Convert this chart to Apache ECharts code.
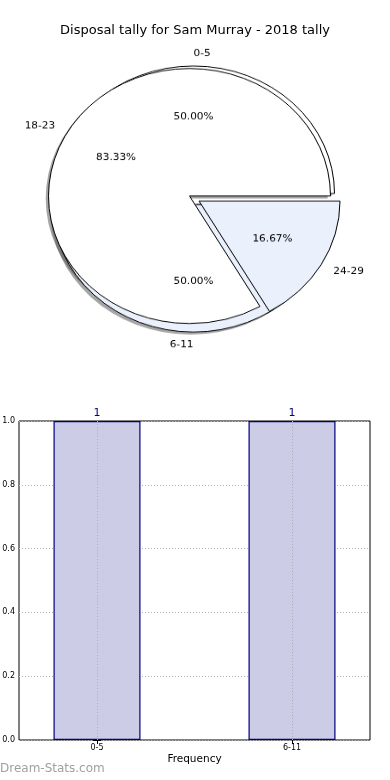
<!DOCTYPE html>
<html><head><meta charset="utf-8">
<script src="https://cdn.jsdelivr.net/npm/echarts@6/dist/echarts.min.js"></script>
<style>
html,body{margin:0;padding:0;background:#fff;}
#wrap{position:relative;width:390px;height:780px;overflow:hidden;}
#main{position:absolute;left:0;top:0;width:390px;height:780px;}
#pie{position:absolute;left:0;top:0;width:390px;height:420px;transform:scaleY(0.9043);transform-origin:0 0;}
</style></head><body>
<div id="wrap"><div id="main"></div><div id="pie"></div></div>
<script>
// ---- data ----
const chartTitle = 'Disposal tally for Sam Murray - 2018 tally';
const pieNamesA = ['0-5', '6-11'];
const pieValuesA = [1, 1];
const pieColorsA = ['#ffffff', '#eaf0fc'];
const pieExplodeA = [true, true];
const pieNamesB = ['18-23', '24-29'];
const pieValuesB = [5, 1];
const pieColorsB = ['#ffffff', '#eaf0fc'];
const pieExplodeB = [false, true];
const barCategories = ['0-5', '6-11'];
const barValues = [1, 1];
const xAxisName = 'Frequency';
const watermark = 'Dream-Stats.com';

// ---- pie (elliptical via vertical CSS scale) ----
const SY = 0.9043, R = 141;
const FONT = 'DejaVu Sans';
const SHX = -2.8, SHY = 2.82;

function pieBase(center, offset, radius) {
  return {
    type: 'pie', center: center, radius: radius, startAngle: 0, clockwise: false,
    selectedMode: 'multiple', selectedOffset: offset, avoidLabelOverlap: false,
    silent: true, animation: false, emphasis: {disabled: true},
    labelLine: {show: false, length: R * 0.1, length2: 0}
  };
}
function shadowPie(names, values, explode, center, offset) {
  const s = pieBase([center[0] + SHX, center[1] + SHY], offset, R);
  s.itemStyle = {color: 'rgba(77,77,77,0.5)', borderWidth: 0};
  s.select = {itemStyle: {color: 'rgba(77,77,77,0.5)', borderWidth: 0}};
  s.label = {show: false};
  s.data = names.map((n, i) => ({name: n, value: values[i], selected: explode[i]}));
  return s;
}
function mainPie(names, values, colors, explode, center, offset) {
  const s = pieBase(center, offset, R);
  s.itemStyle = {borderColor: '#000', borderWidth: 1};
  s.select = {itemStyle: {borderColor: '#000', borderWidth: 1}};
  s.label = {show: true, position: 'outside', formatter: '{b}', fontFamily: FONT, fontSize: 10.5, color: '#000', distanceToLabelLine: 0};
  s.data = names.map((n, i) => ({name: n, value: values[i], selected: explode[i], itemStyle: {color: colors[i]}, select: {itemStyle: {color: colors[i]}}}));
  return s;
}
function pctPie(names, values, explode, center, offset) {
  const sum = values.reduce((a, b) => a + b, 0);
  const s = pieBase(center, offset, [R * 0.4, R * 0.76]);
  s.itemStyle = {color: 'rgba(0,0,0,0)', borderWidth: 0};
  s.select = {itemStyle: {color: 'rgba(0,0,0,0)', borderWidth: 0}};
  s.label = {show: true, position: 'inside', fontFamily: FONT, fontSize: 10.5, color: '#000',
    formatter: p => (values[p.dataIndex] / sum * 100).toFixed(2) + '%'};
  s.data = names.map((n, i) => ({name: n, value: values[i], selected: explode[i]}));
  return s;
}
const centerA = [193.5, 199 / SY], centerB = [189.5, 196 / SY];
const offA = 6.1, offB = 11;
const pie = echarts.init(document.getElementById('pie'), null, {renderer: 'canvas'});
pie.setOption({
  animation: false,
  series: [
    shadowPie(pieNamesA, pieValuesA, pieExplodeA, centerA, offA),
    shadowPie(pieNamesB, pieValuesB, pieExplodeB, centerB, offB),
    mainPie(pieNamesA, pieValuesA, pieColorsA, pieExplodeA, centerA, offA),
    mainPie(pieNamesB, pieValuesB, pieColorsB, pieExplodeB, centerB, offB),
    pctPie(pieNamesA, pieValuesA, pieExplodeA, centerA, offA),
    pctPie(pieNamesB, pieValuesB, pieExplodeB, centerB, offB)
  ]
});

// ---- main chart: title, bar chart, watermark ----
const grid = {left: 19, right: 20, top: 421, bottom: 40};
const dotted = {color: '#b0b0b0', type: [1, 2], width: 1};
const main = echarts.init(document.getElementById('main'), null, {renderer: 'canvas'});
main.setOption({
  animation: false,
  title: {text: chartTitle, left: 'center', top: 19, textStyle: {fontFamily: FONT, fontSize: 13, fontWeight: 'normal', color: '#000'}},
  grid: Object.assign({show: true, borderColor: '#000', borderWidth: 1, backgroundColor: 'transparent', outerBoundsMode: 'none'}, grid),
  xAxis: [{
    type: 'value', min: -0.4, max: 1.4, position: 'bottom',
    axisLine: {show: false}, splitLine: {show: false},
    axisTick: {show: true, inside: true, length: 4, customValues: [0, 1], lineStyle: {color: '#000'}},
    axisLabel: {customValues: [0, 1], formatter: v => barCategories[Math.round(v)] || '', fontFamily: FONT, fontSize: 8, color: '#000', margin: 4},
    name: xAxisName, nameLocation: 'middle', nameGap: 14,
    nameTextStyle: {fontFamily: FONT, fontSize: 10.5, color: '#000'}
  }, {
    type: 'value', min: -0.4, max: 1.4, position: 'top',
    axisLine: {show: false}, splitLine: {show: false}, axisLabel: {show: false},
    axisTick: {show: true, inside: true, length: 4, customValues: [0, 1], lineStyle: {color: '#000'}}
  }],
  yAxis: [{
    type: 'value', min: 0, max: 1, interval: 0.2, position: 'left',
    axisLine: {show: false},
    axisTick: {show: true, inside: true, length: 4, lineStyle: {color: '#000'}},
    axisLabel: {formatter: v => v.toFixed(1), fontFamily: FONT, fontSize: 8, color: '#000', margin: 4},
    splitLine: {show: true, lineStyle: dotted}
  }, {
    type: 'value', min: 0, max: 1, interval: 0.2, position: 'right',
    axisLine: {show: false}, axisLabel: {show: false}, splitLine: {show: false},
    axisTick: {show: true, inside: true, length: 4, lineStyle: {color: '#000'}}
  }],
  series: [{
    type: 'bar', xAxisIndex: 0, yAxisIndex: 0,
    data: barValues.map((v, i) => [i, v]),
    barWidth: 87,
    itemStyle: {color: '#ccccE6', borderColor: '#000080', borderWidth: 1.2},
    label: {show: true, position: 'top', distance: 2, color: '#000080', fontFamily: FONT, fontSize: 11},
    markLine: {silent: true, symbol: 'none', label: {show: false}, lineStyle: dotted,
      data: barCategories.map((c, i) => ({xAxis: i}))}
  }],
  graphic: [{type: 'text', left: 0, top: 763, style: {text: watermark, fill: '#a0a0a0', font: '12px "DejaVu Sans"'}}]
});
</script>
</body></html>
